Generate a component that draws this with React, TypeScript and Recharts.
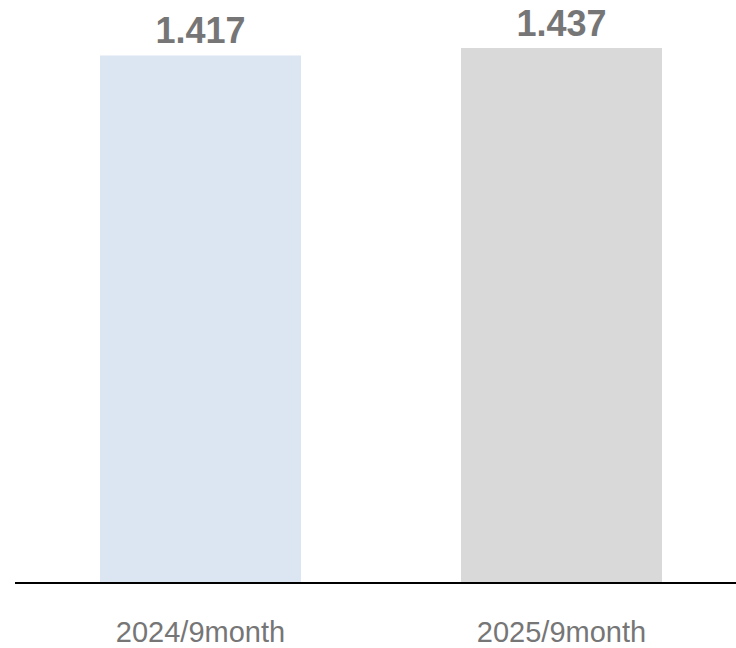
import React from 'react';
import { BarChart, Bar, XAxis, YAxis, LabelList, Cell } from 'recharts';

// Chart data
const periods: string[] = ['2024/9month', '2025/9month'];
const values: number[] = [1.417, 1.437];
const barColors: string[] = ['#dce6f2', '#d9d9d9'];

const data = periods.map((name, i) => ({ name, value: values[i] }));

const App: React.FC = () => {
    return (
        <div style={{ position: 'absolute', left: 0, top: 0, width: 736, height: 648, overflow: 'hidden', background: '#fff' }}>
            <BarChart
                width={742}
                height={648}
                data={data}
                margin={{ top: 48, right: 0, left: 15, bottom: 0 }}
                barSize={201}
            >
                <XAxis
                    dataKey="name"
                    padding={{ left: 5, right: 0 }}
                    axisLine={{ stroke: '#000', strokeWidth: 2 }}
                    tickLine={false}
                    tickSize={0}
                    tickMargin={38}
                    height={65}
                    tick={{ fill: '#767676', fontSize: 29, fontFamily: 'Liberation Sans, Arial, sans-serif' }}
                />
                <YAxis hide domain={[0, 'dataMax']} />
                <Bar dataKey="value" isAnimationActive={false}>
                    {data.map((_, i) => (
                        <Cell key={i} fill={barColors[i]} />
                    ))}
                    <LabelList
                        dataKey="value"
                        position="top"
                        offset={12}
                        formatter={(v: number) => v.toFixed(3)}
                        style={{ fill: '#767676', fontSize: 36, fontWeight: 'bold', fontFamily: 'Liberation Sans, Arial, sans-serif' }}
                    />
                </Bar>
            </BarChart>
        </div>
    );
};

export default App;
